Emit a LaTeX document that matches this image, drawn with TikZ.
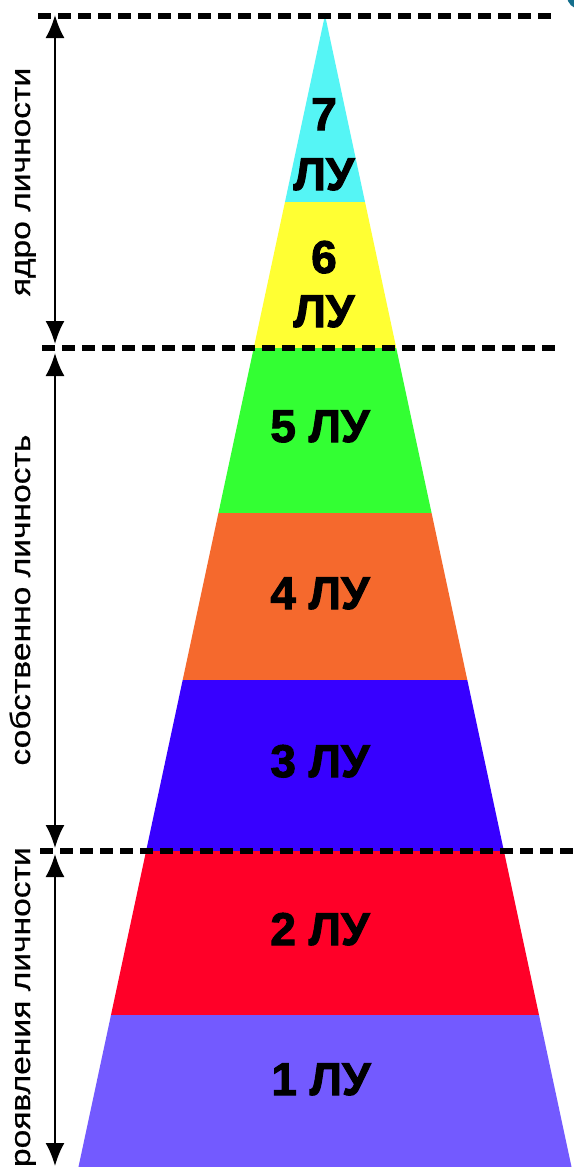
\documentclass[tikz,border=0pt]{standalone}
\usepackage{fontspec}
\setmainfont{Liberation Sans}
\newfontfamily\heavyfont[FakeBold=2.2]{Liberation Sans Bold}
\newfontfamily\sidefont[FakeBold=0.6]{Liberation Sans}
\usetikzlibrary{arrows.meta}
\definecolor{c7}{RGB}{85,245,245}
\definecolor{c6}{RGB}{255,255,51}
\definecolor{c5}{RGB}{51,255,51}
\definecolor{c4}{RGB}{245,105,45}
\definecolor{c3}{RGB}{55,0,255}
\definecolor{c2}{RGB}{255,0,40}
\definecolor{c1}{RGB}{115,90,255}
\definecolor{corner}{RGB}{20,110,140}
\begin{document}
\begin{tikzpicture}[x=1pt,y=-1pt,
  declare function={xl(\y)=325-0.214*(\y-15); xr(\y)=325+0.214*(\y-15);},
  guide/.style={line width=6pt, dash pattern=on 13pt off 7pt},
  span/.style={line width=2pt, {Latex[length=23pt,width=19pt]}-{Latex[length=23pt,width=19pt]}},
  lvl/.style={font=\heavyfont\fontsize{46}{50}\selectfont, inner sep=0pt, text=black},
  side/.style={rotate=90, inner sep=0pt, font=\sidefont\fontsize{28}{30}\selectfont}
]
\useasboundingbox (0,0) rectangle (573,1167);
\fill[white] (0,0) rectangle (573,1167);
% bands
\fill[c7] (325,15) -- ({xr(202)},202) -- ({xl(202)},202) -- cycle;
\fill[c6] ({xl(202)},202) -- ({xr(202)},202) -- ({xr(348)},348) -- ({xl(348)},348) -- cycle;
\fill[c5] ({xl(348)},348) -- ({xr(348)},348) -- ({xr(513)},513) -- ({xl(513)},513) -- cycle;
\fill[c4] ({xl(513)},513) -- ({xr(513)},513) -- ({xr(680)},680) -- ({xl(680)},680) -- cycle;
\fill[c3] ({xl(680)},680) -- ({xr(680)},680) -- ({xr(851)},851) -- ({xl(851)},851) -- cycle;
\fill[c2] ({xl(851)},851) -- ({xr(851)},851) -- ({xr(1015)},1015) -- ({xl(1015)},1015) -- cycle;
\fill[c1] ({xl(1015)},1015) -- ({xr(1015)},1015) -- ({xr(1170)},1170) -- ({xl(1170)},1170) -- cycle;
% corner fragment
\fill[corner] (580,-4) circle (13);
% level labels
\node[lvl,anchor=base] (l7a) at (324,130) {7};
\node[lvl,anchor=base] (l7b) at (324,190) {ЛУ};
\node[lvl,anchor=base] (l6a) at (324,273) {6};
\node[lvl,anchor=base] (l6b) at (324,327) {ЛУ};
\node[lvl,anchor=base] (l5) at (320,442) {5 ЛУ};
\node[lvl,anchor=base] (l4) at (320,609) {4 ЛУ};
\node[lvl,anchor=base] (l3) at (320,777) {3 ЛУ};
\node[lvl,anchor=base] (l2) at (320,945) {2 ЛУ};
\node[lvl,anchor=base] (l1) at (321,1095) {1 ЛУ};
% guide lines
\coordinate (d0l) at (38,16);  \coordinate (d0r) at (556,16);
\coordinate (d1l) at (42,348); \coordinate (d1r) at (562,348);
\coordinate (d2l) at (40,851); \coordinate (d2r) at (573,851);
\draw[guide] (d0l) -- (d0r);
\draw[guide] (d1l) -- (d1r);
\draw[guide] (d2l) -- (d2r);
% spans
\coordinate (a0) at (55,15);
\coordinate (a1t) at (55,344);
\coordinate (a1b) at (55,353);
\coordinate (a2t) at (55,848);
\coordinate (a2b) at (55,854);
\coordinate (a3) at (55,1166);
\draw[span] (a0) -- (a1t);
\draw[span] (a1b) -- (a2t);
\draw[span] (a2b) -- (a3);
% side labels
\node[side,anchor=base] (s1) at (30,182) {\scalebox{1.2}[1]{ядро личности}};
\node[side,anchor=base] (s2) at (30,600) {\scalebox{1.2}[1]{собственно личность}};
\node[side,anchor=base east] (s3) at (30,847) {\scalebox{1.2}[1]{проявления личности}};
\end{tikzpicture}
\end{document}
